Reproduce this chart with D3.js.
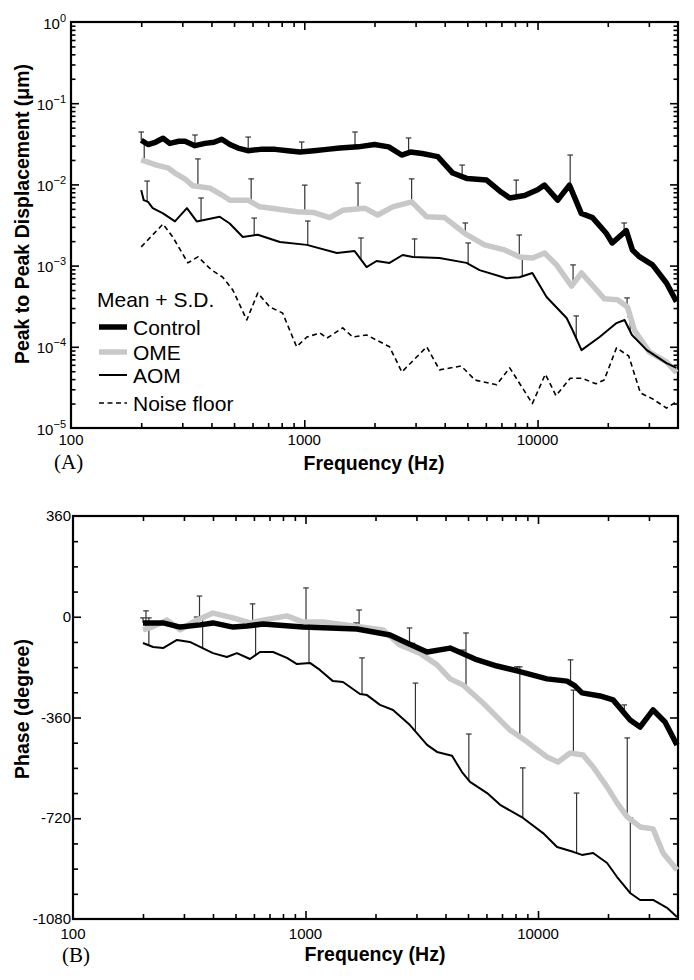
<!DOCTYPE html>
<html><head><meta charset="utf-8">
<script src="https://cdn.jsdelivr.net/npm/d3@7"></script>
<style>body{margin:0;background:#fff}svg{display:block}</style>
</head><body>
<svg id="c" width="694" height="980"></svg>
<script>
// ---------- Panel A: peak-to-peak displacement (um), [frequency Hz, value] ----------
const ctrlMag = [[200,0.035],[214,0.031],[230,0.033],[248,0.037],[265,0.032],[290,0.034],[308,0.034],[340,0.030],[375,0.032],[410,0.033],[443,0.036],[480,0.031],[520,0.028],[573,0.026],[650,0.027],[750,0.027],[850,0.026],[957,0.025],[1100,0.026],[1250,0.027],[1420,0.028],[1700,0.029],[2000,0.031],[2300,0.029],[2615,0.023],[2850,0.025],[3200,0.024],[3735,0.022],[4330,0.0138],[5000,0.0118],[6050,0.0113],[7000,0.0080],[7600,0.0068],[8800,0.0073],[10000,0.0086],[10700,0.0098],[12200,0.0064],[13700,0.0098],[15400,0.0044],[17200,0.0039],[19700,0.0025],[20900,0.0019],[24000,0.0027],[25500,0.00156],[27400,0.00128],[31100,0.00102],[35700,0.00061],[39400,0.00036]];
const omeMag = [[200,0.020],[233,0.0173],[260,0.016],[279,0.0138],[310,0.0115],[333,0.0096],[394,0.0090],[440,0.0075],[480,0.0064],[573,0.0064],[644,0.0053],[750,0.0050],[929,0.0046],[1100,0.0045],[1285,0.0039],[1462,0.0048],[1816,0.0051],[2064,0.0042],[2393,0.0053],[2887,0.0061],[3347,0.0040],[3996,0.0039],[4969,0.0024],[5930,0.0018],[7225,0.00156],[8380,0.00128],[9525,0.00124],[10720,0.00143],[12060,0.00102],[13990,0.00056],[15430,0.00081],[19350,0.00039],[22010,0.00038],[24290,0.00031],[26020,0.00016],[30180,0.000086],[35680,0.000065],[39400,0.000048]];
const aomMag = [[200,0.0085],[205,0.0064],[214,0.0061],[224,0.0051],[248,0.0044],[279,0.0035],[314,0.0051],[346,0.0035],[434,0.0040],[479,0.0033],[545,0.00225],[632,0.0024],[786,0.00195],[1026,0.0018],[1380,0.00143],[1644,0.00151],[1850,0.00096],[2040,0.00114],[2320,0.00108],[2640,0.00135],[2920,0.00128],[3800,0.00124],[4960,0.00108],[5640,0.00088],[7350,0.00070],[8360,0.00072],[9500,0.00081],[10930,0.00041],[13320,0.000226],[14120,0.000161],[15430,0.000091],[18450,0.000132],[21800,0.000196],[23600,0.000214],[25400,0.00014],[29400,0.000091],[35700,0.000063],[39400,0.000055]];
const noiseMag = [[200,0.0017],[248,0.00325],[273,0.00225],[317,0.00108],[350,0.00128],[401,0.00088],[447,0.00072],[494,0.00050],[567,0.000214],[632,0.00046],[711,0.00031],[808,0.00026],[927,0.0001],[1026,0.000132],[1166,0.000148],[1251,0.000128],[1462,0.000171],[1612,0.000132],[1850,0.00014],[2320,0.0001],[2620,0.000049],[3350,0.0001],[3800,0.000052],[4710,0.000058],[5390,0.000039],[6670,0.000034],[7600,0.000055],[9500,0.00002],[10800,0.000046],[12000,0.000025],[13800,0.000041],[15500,0.000041],[17800,0.000035],[19300,0.000039],[21800,0.000097],[24600,0.000077],[27600,0.000027],[31000,0.000023],[35700,0.0000176],[39400,0.000021]];

// S.D. bar frequencies (Hz) per group
const ctrlSDFreq = [200,340,575,975,1650,2800,4750,8100,13800,23500];
const omeSDFreq  = [206,350,592,1005,1700,2885,4900,8350,14200,24200];
const aomSDFreq  = [212,361,610,1035,1750,2970,5040,8600,14650,24950];
// mean + S.D. (bar tops), panel A
const ctrlMagSD = [0.0442,0.0406,0.0383,0.0333,0.0442,0.0373,0.0173,0.0113,0.0230,0.00335];
const omeMagSD  = [0.033,0.0206,0.0117,0.0098,0.0104,0.0117,0.00335,0.00238,0.00102,0.0004];
const aomMagSD  = [0.011,0.0068,0.00385,0.00354,0.00219,0.00213,0.0019,0.00124,0.00024,0.000233];

// ---------- Panel B: phase (degree) ----------
const ctrlPhase = [[200,-22],[244,-22],[289,-37],[352,-29],[400,-22],[488,-37],[560,-33],[656,-26],[975,-37],[1666,-44],[2308,-65],[2733,-94],[3333,-126],[4188,-112],[5360,-151],[6660,-176],[8200,-194],[10930,-222],[13330,-230],[14420,-247],[15460,-272],[18480,-283],[21030,-297],[24890,-369],[27480,-394],[31250,-333],[35180,-376],[39610,-458]];
const omePhase = [[200,-47],[214,-40],[254,-12],[289,-47],[328,-19],[400,13],[488,-4],[577,-22],[656,-12],[832,3],[975,-19],[1188,-19],[1766,-37],[2153,-47],[2548,-101],[3105,-130],[3679,-172],[4188,-222],[4757,-244],[5800,-308],[7580,-405],[8970,-447],[10930,-501],[12190,-519],[13740,-487],[15630,-494],[17260,-537],[19820,-608],[21880,-665],[24170,-715],[27480,-751],[31250,-758],[34500,-844],[39610,-905]];
const aomPhase = [[200,-94],[221,-108],[244,-112],[280,-83],[318,-90],[352,-108],[400,-130],[459,-144],[507,-130],[577,-151],[637,-126],[725,-126],[832,-147],[919,-169],[1045,-165],[1153,-190],[1312,-230],[1449,-233],[1715,-276],[1839,-280],[2091,-315],[2379,-333],[2813,-387],[3333,-458],[3679,-483],[4268,-497],[4710,-555],[5100,-590],[6040,-630],[6870,-672],[8620,-719],[10510,-773],[12080,-823],[14150,-840],[15460,-851],[17260,-844],[19820,-880],[21880,-930],[24890,-987],[27480,-1012],[31250,-1012],[35890,-1040],[39610,-1073]];
const ctrlPhaseSD = [-4,-1,-19,-19,-22,-40,-119,-179,-154,-315];
const omePhaseSD  = [21,74,46,103,24,-95,-58,-179,-262,-433];
const aomPhaseSD  = [-4,-4,-19,-19,-147,-237,-419,-540,-630,-719];

// ---------- labels ----------
const xTickLabels = ["100","1000","10000"];
const magDecades = [-5,-4,-3,-2,-1,0];
const phaseLabels = [360,0,-360,-720,-1080];
const legendItems = ["Control","OME","AOM","Noise floor"];

const SANS = "'Liberation Sans', Arial, Helvetica, sans-serif";
const SERIF = "'Liberation Serif', 'Times New Roman', serif";
const svg = d3.select('#c');
svg.append('rect').attr('width',694).attr('height',980).attr('fill','#fff');

const xA = d3.scaleLog().domain([100,40000]).range([71,678]);
const yA = d3.scaleLog().domain([1e-5,1]).range([428,22]);
const xB = d3.scaleLog().domain([100,40000]).range([73,678]);
const yB = d3.scaleLinear().domain([-1080,360]).range([919,516]);

const styles = {
  ctrl:{stroke:'#000',w:5.5},
  ome:{stroke:'#c8c8c8',w:5.5},
  aom:{stroke:'#000',w:2},
  noise:{stroke:'#000',w:1.6,dash:'5,3.5'}
};

// minor/major frequency ticks
const xMinor = [], xMajor = [];
[100,1000,10000].forEach(b => { for (let m=1;m<10;m++){ const v=m*b; if(v>100 && v<40000){ (m===1?xMajor:xMinor).push(v);} } });

function interp(pts, f, logY){
  const lf = Math.log10(f);
  for (let i=0;i<pts.length-1;i++){
    const a=pts[i], b=pts[i+1];
    if (f>=a[0] && f<=b[0]){
      const t=(lf-Math.log10(a[0]))/(Math.log10(b[0])-Math.log10(a[0]));
      if (logY) return Math.pow(10, Math.log10(a[1])+t*(Math.log10(b[1])-Math.log10(a[1])));
      return a[1]+t*(b[1]-a[1]);
    }
  }
  return pts[pts.length-1][1];
}

function frameAndTicks(x, y, yMinorVals, yMajorVals, yMinorLen, labelDy){
  const [x0,x1] = x.range(); const [y1,y0] = y.range();
  const tick = (axisGen, tr) => {
    const a = svg.append('g').attr('transform',tr).call(axisGen);
    a.select('.domain').remove();
    a.selectAll('line').attr('stroke','#000').attr('stroke-width',1.6);
    a.selectAll('text').remove();
  };
  tick(d3.axisBottom(x).tickValues(xMinor).tickSizeInner(-5).tickSizeOuter(0), `translate(0,${y1})`);
  tick(d3.axisBottom(x).tickValues(xMajor).tickSizeInner(-8).tickSizeOuter(0), `translate(0,${y1})`);
  tick(d3.axisTop(x).tickValues(xMinor).tickSizeInner(-5).tickSizeOuter(0), `translate(0,${y0})`);
  tick(d3.axisTop(x).tickValues(xMajor).tickSizeInner(-8).tickSizeOuter(0), `translate(0,${y0})`);
  tick(d3.axisLeft(y).tickValues(yMinorVals).tickSizeInner(-yMinorLen).tickSizeOuter(0), `translate(${x0},0)`);
  tick(d3.axisRight(y).tickValues(yMinorVals).tickSizeInner(-yMinorLen).tickSizeOuter(0), `translate(${x1},0)`);
  tick(d3.axisLeft(y).tickValues(yMajorVals).tickSizeInner(-8).tickSizeOuter(0), `translate(${x0},0)`);
  tick(d3.axisRight(y).tickValues(yMajorVals).tickSizeInner(-8).tickSizeOuter(0), `translate(${x1},0)`);
  svg.append('rect').attr('x',x0).attr('y',y0).attr('width',x1-x0).attr('height',y1-y0)
    .attr('fill','none').attr('stroke','#000').attr('stroke-width',2.2);
  xTickLabels.forEach(s => {
    svg.append('text').attr('x',x(+s)).attr('y',y1+labelDy).attr('text-anchor','middle')
      .attr('font-family',SANS).attr('font-size',15).text(s);
  });
}

function drawLine(pts, x, y, st){
  const line = d3.line().x(d=>x(d[0])).y(d=>y(d[1]));
  svg.append('path').attr('d',line(pts)).attr('fill','none').attr('stroke',st.stroke)
    .attr('stroke-width',st.w).attr('stroke-linejoin','round').attr('stroke-linecap','butt')
    .attr('stroke-dasharray',st.dash||null);
}
function drawBars(freqs, tops, pts, x, y, logY){
  const g = svg.append('g').attr('stroke','#333').attr('stroke-width',1.2);
  freqs.forEach((f,i) => {
    const xx = x(f), yb = y(interp(pts,f,logY)), yt = y(tops[i]);
    g.append('line').attr('x1',xx).attr('x2',xx).attr('y1',yb).attr('y2',yt);
    g.append('line').attr('x1',xx-2.8).attr('x2',xx+2.8).attr('y1',yt).attr('y2',yt);
  });
}

// ===== Panel A =====
const magMinor = [], magMajor = magDecades.slice(1,-1).map(k=>Math.pow(10,k));
for (let k=-5;k<0;k++) for (let m=2;m<10;m++) magMinor.push(m*Math.pow(10,k));
frameAndTicks(xA, yA, magMinor, magMajor, 4.5, 17);
magDecades.forEach(k => {
  const t = svg.append('text').attr('x',66).attr('y',yA(Math.pow(10,k))+6.5).attr('text-anchor','end')
    .attr('font-family',SANS).attr('font-size',15);
  t.append('tspan').text('10');
  t.append('tspan').attr('dy',-7).attr('font-size',11).text(String(k).replace('-','\u2212'));
});
drawBars(ctrlSDFreq, ctrlMagSD, ctrlMag, xA, yA, true);
drawBars(omeSDFreq, omeMagSD, omeMag, xA, yA, true);
drawBars(aomSDFreq, aomMagSD, aomMag, xA, yA, true);
drawLine(noiseMag, xA, yA, styles.noise);
drawLine(omeMag, xA, yA, styles.ome);
drawLine(aomMag, xA, yA, styles.aom);
drawLine(ctrlMag, xA, yA, styles.ctrl);

svg.append('text').attr('transform','translate(29,214) rotate(-90)').attr('text-anchor','middle')
  .attr('font-family',SANS).attr('font-weight','bold').attr('font-size',19.5)
  .text('Peak to Peak Displacement (\u03bcm)');
svg.append('text').attr('x',374).attr('y',470).attr('text-anchor','middle')
  .attr('font-family',SANS).attr('font-weight','bold').attr('font-size',19.5).text('Frequency (Hz)');
svg.append('text').attr('x',54).attr('y',469).attr('font-family',SERIF).attr('font-size',21).text('(A)');

// legend
svg.append('text').attr('x',97).attr('y',307).attr('font-family',SANS).attr('font-size',21).text('Mean + S.D.');
const legStyles = [styles.ctrl, styles.ome, styles.aom, styles.noise];
const legY = [327, 352, 375, 403];
legendItems.forEach((name,i) => {
  svg.append('line').attr('x1',99).attr('x2',127).attr('y1',legY[i]).attr('y2',legY[i])
    .attr('stroke',legStyles[i].stroke).attr('stroke-width',legStyles[i].w)
    .attr('stroke-dasharray',legStyles[i].dash||null);
  svg.append('text').attr('x',133).attr('y',legY[i]+8).attr('font-family',SANS).attr('font-size',21).text(name);
});

// ===== Panel B =====
const phMinor = d3.range(-990, 360, 90).filter(v => v%360!==0);
const phMajor = [-720,-360,0];
frameAndTicks(xB, yB, phMinor, phMajor, 5, 19.5);
phaseLabels.forEach(v => {
  svg.append('text').attr('x',71).attr('y',yB(v)+5).attr('text-anchor','end')
    .attr('font-family',SANS).attr('font-size',15).text(String(v));
});
drawBars(ctrlSDFreq, ctrlPhaseSD, ctrlPhase, xB, yB, false);
drawBars(omeSDFreq, omePhaseSD, omePhase, xB, yB, false);
drawBars(aomSDFreq, aomPhaseSD, aomPhase, xB, yB, false);
drawLine(omePhase, xB, yB, styles.ome);
drawLine(aomPhase, xB, yB, styles.aom);
drawLine(ctrlPhase, xB, yB, styles.ctrl);

svg.append('text').attr('transform','translate(29,709) rotate(-90)').attr('text-anchor','middle')
  .attr('font-family',SANS).attr('font-weight','bold').attr('font-size',19.5).text('Phase (degree)');
svg.append('text').attr('x',375).attr('y',961).attr('text-anchor','middle')
  .attr('font-family',SANS).attr('font-weight','bold').attr('font-size',19.5).text('Frequency (Hz)');
svg.append('text').attr('x',62).attr('y',962).attr('font-family',SERIF).attr('font-size',21).text('(B)');
</script>
</body></html>
